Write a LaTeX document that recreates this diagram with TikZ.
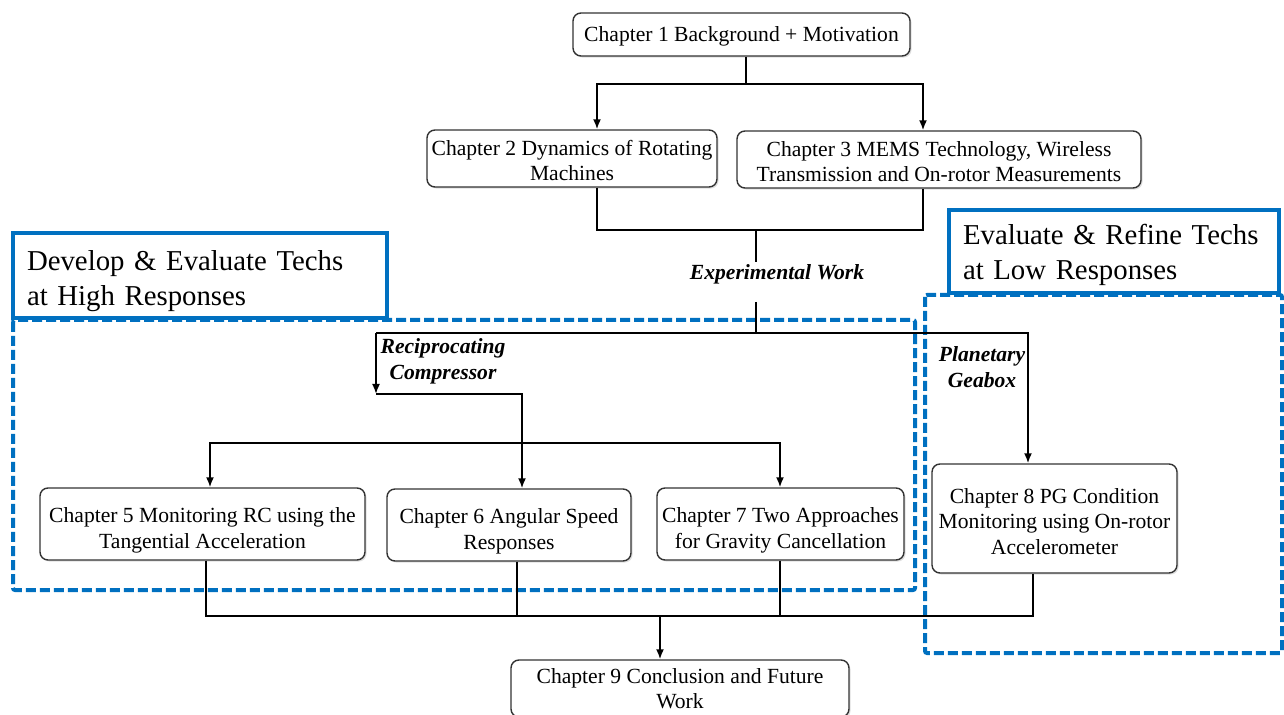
\documentclass[tikz,border=0pt]{standalone}
\usepackage{fontspec}
\setmainfont{Liberation Serif}
\usepackage{tikz}
\usetikzlibrary{arrows.meta,shadows}
\definecolor{ThesisBlue}{HTML}{0070C0}
\definecolor{ThesisEdge}{HTML}{333333}
\newcommand{\drop}[1]{\rule{0pt}{#1}}
\tikzset{
  link/.style={line width=0.9pt, draw=black},
  flow/.style={-{Latex[length=5pt,width=4pt]}, line width=0.9pt, draw=black},
  chap/.style={rounded corners=4pt, draw=ThesisEdge, fill=white, line width=0.7pt,
               align=center, inner sep=2pt, font=\fontsize{10.8}{12.8}\selectfont,
               drop shadow={opacity=0.25, shadow xshift=0.8pt, shadow yshift=-0.8pt}},
  route/.style={align=center, inner sep=1pt, font=\fontsize{10.8}{13}\selectfont\bfseries\itshape},
  headbox/.style={draw=ThesisBlue, line width=2pt, align=left, inner xsep=7pt, inner ysep=3pt,
                  font=\fontsize{14.4}{17.5}\selectfont},
  groupbox/.style={draw=ThesisBlue, line width=2pt, dash pattern=on 5pt off 2pt, rounded corners=1pt},
}
\begin{document}
\begin{tikzpicture}[x=0.5pt,y=-0.5pt]
    \useasboundingbox (0,0) rectangle (1284,715);
    % groups
    \draw[groupbox] (13,320) rectangle (915,590);
    \draw[groupbox] (925,295) rectangle (1282,653);
    \node[headbox,text width=173pt,minimum height=42.5pt] (highhead) at (200,275.5) {\drop{15.3pt}Develop \& Evaluate Techs\\at High Responses};
    \node[headbox,text width=151pt,minimum height=41.5pt] (lowhead) at (1114,251.5) {\drop{13.8pt}Evaluate \& Refine Techs\\at Low Responses};
    % chapters
    \node[chap,minimum width=168.5pt,minimum height=21.5pt] (ch1) at (741.5,34.5) {\drop{9.6pt}Chapter 1 Background + Motivation};
    \node[chap,minimum width=145pt,minimum height=28.5pt] (ch2) at (572,158.5) {\drop{9.6pt}Chapter 2 Dynamics of Rotating\\Machines};
    \node[chap,minimum width=202pt,minimum height=28.5pt] (ch3) at (939,159.5) {\drop{9.6pt}Chapter 3 MEMS Technology, Wireless\\Transmission and On-rotor Measurements};
    \node[chap,minimum width=162.5pt,minimum height=36pt] (ch5) at (202.5,524) {\drop{13.6pt}Chapter 5 Monitoring RC using the\\Tangential Acceleration};
    \node[chap,minimum width=122pt,minimum height=36pt] (ch6) at (509,525) {\drop{13.6pt}Chapter 6 Angular Speed\\Responses};
    \node[chap,minimum width=123.5pt,minimum height=36pt] (ch7) at (780.5,524) {\drop{13.6pt}Chapter 7 Two Approaches\\for Gravity Cancellation};
    \node[chap,minimum width=122.5pt,minimum height=54.5pt] (ch8) at (1054.5,518.5) {\drop{10.6pt}Chapter 8 PG Condition\\Monitoring using On-rotor\\Accelerometer};
    \node[chap,minimum width=169pt,minimum height=28.5pt] (ch9) at (680,688.5) {Chapter 9 Conclusion and Future\\Work};
    % route labels
    \node[route] (expwork) at (777,274) {Experimental Work};
    \node[route] (recip) at (443,361) {Reciprocating\\Compressor};
    \node[route] (planet) at (982,367) {Planetary\\Geabox};
    % connectors
    \coordinate (fork1) at (746,84);
    \coordinate (merge1) at (756,230);
    \coordinate (expout) at (756,302);
    \coordinate (fork2) at (756,333);
    \coordinate (rcturn) at (376,333);
    \coordinate (rcdrop) at (376,394);
    \coordinate (fork3) at (522,443);
    \coordinate (merge2) at (660,616);
    \draw[link] ([xshift=2.25pt]ch1.south) -- (fork1);
    \draw[flow] (fork1) -| ([xshift=12.5pt]ch2.north);
    \draw[flow] (fork1) -| ([xshift=-8pt]ch3.north);
    \draw[link] ([xshift=12.5pt]ch2.south) |- (merge1) -| ([xshift=-8pt]ch3.south);
    \draw[link] (merge1) -- (merge1 |- expwork.north);
    \draw[link] (expout) -- (fork2);
    \draw[link] (fork2) -- (rcturn);
    \draw[flow] (rcturn) -- (rcdrop);
    \draw[flow] (rcdrop) -| ([xshift=6.5pt]ch6.north);
    \draw[flow] (fork3) -| ([xshift=3.75pt]ch5.north);
    \draw[flow] (fork3) -| ([xshift=-0.25pt]ch7.north);
    \draw[flow] (fork2) -| ([xshift=-13.25pt]ch8.north);
    \draw[link] ([xshift=1.75pt]ch5.south) |- (merge2);
    \draw[link] ([xshift=-10.75pt]ch8.south) |- (merge2);
    \draw[link] ([xshift=4pt]ch6.south) -- ([xshift=4pt]ch6.south |- merge2);
    \draw[link] ([xshift=-0.25pt]ch7.south) -- ([xshift=-0.25pt]ch7.south |- merge2);
    \draw[flow] (merge2) -- ([xshift=-10pt]ch9.north);
\end{tikzpicture}
\end{document}
